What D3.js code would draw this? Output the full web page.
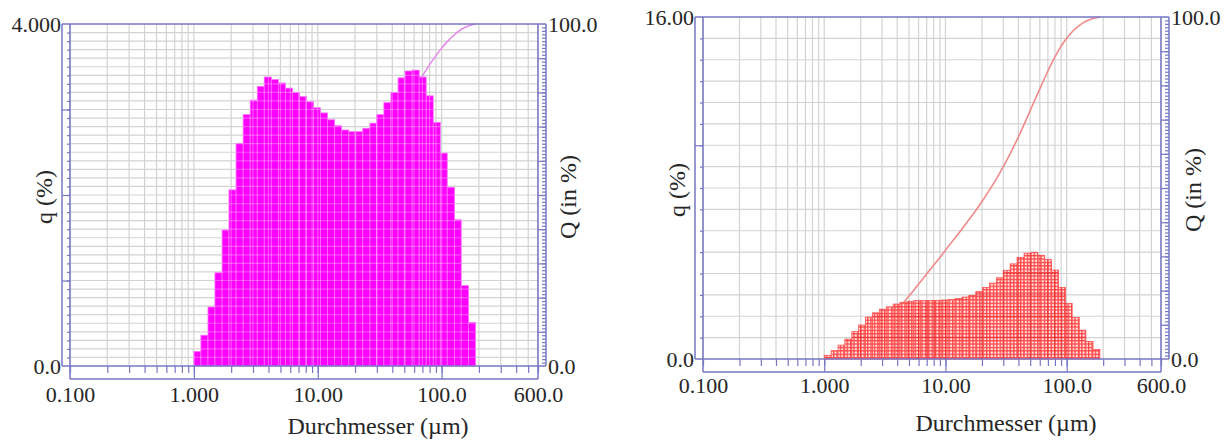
<!DOCTYPE html>
<html>
<head>
<meta charset="utf-8">
<script src="https://cdn.jsdelivr.net/npm/d3@7"></script>
<style>
  body { margin: 0; background: #fff; }
  text { font-family: "Liberation Serif", "Times New Roman", serif; fill: #262626; }
</style>
</head>
<body>
<svg id="chart"></svg>
<script>
// particle size classes (µm), bin edges shared by both measurements
let binEdges = [1.00, 1.14, 1.30, 1.48, 1.69, 1.92, 2.19, 2.50, 2.85, 3.25, 3.70, 4.22, 4.81, 5.48,
  6.25, 7.12, 8.12, 9.25, 10.5, 12.0, 13.7, 15.6, 17.8, 20.3, 23.1, 26.4, 30.0, 34.2, 39.0, 44.5,
  50.7, 57.8, 65.9, 75.1, 85.6, 97.6, 111, 127, 144, 165, 188];

// left sample: density q (%) per class and cumulative Q (%) at class edges
let qLeft = [0.17, 0.36, 0.69, 1.09, 1.59, 2.06, 2.60, 2.94, 3.11, 3.27, 3.38, 3.35, 3.31, 3.25,
  3.20, 3.15, 3.09, 3.02, 2.96, 2.88, 2.81, 2.76, 2.74, 2.74, 2.78, 2.84, 2.94, 3.08, 3.20, 3.37,
  3.45, 3.46, 3.38, 3.16, 2.85, 2.49, 2.09, 1.71, 0.94, 0.51];
let cumLeft = [0, 0.2, 0.5, 1.2, 2.3, 3.8, 5.8, 8.3, 11.2, 14.2, 17.4, 20.7, 24.0, 27.2, 30.3,
  33.4, 36.5, 39.5, 42.5, 45.3, 48.1, 50.9, 53.6, 56.2, 58.9, 61.6, 64.4, 67.2, 70.2, 73.3, 76.6,
  80.0, 83.3, 86.6, 89.7, 92.5, 94.9, 96.9, 98.6, 99.5, 100];

// right sample
let qRight = [0.17, 0.39, 0.65, 0.93, 1.28, 1.59, 1.96, 2.16, 2.33, 2.44, 2.57, 2.65, 2.70, 2.73,
  2.73, 2.74, 2.74, 2.76, 2.78, 2.83, 2.90, 2.98, 3.15, 3.35, 3.55, 3.80, 4.15, 4.45, 4.75, 4.95,
  4.98, 4.85, 4.65, 4.16, 3.35, 2.60, 1.95, 1.35, 0.82, 0.45];
let cumRight = [0, 0.2, 0.5, 1.1, 2.0, 3.2, 4.6, 6.4, 8.4, 10.6, 12.8, 15.2, 17.7, 20.1, 22.7,
  25.2, 27.7, 30.2, 32.8, 35.4, 38.0, 40.7, 43.4, 46.3, 49.4, 52.7, 56.2, 60.0, 64.1, 68.5, 73.1,
  77.7, 82.2, 86.5, 90.3, 93.4, 95.8, 97.6, 98.8, 99.6, 100];

let xTickValues = [0.1, 1, 10, 100, 600];
let xTickLabels = ["0.100", "1.000", "10.00", "100.0", "600.0"];
let leftYLabels = ["0.0", "4.000"];
let rightYLabels = ["0.0", "16.00"];
let cumLabels = ["0.0", "100.0"];

let width = 1230;
let height = 441;
let axisColor = "#7676c4";
let gridColor = "#d3d3d3";

let svg = d3.select("#chart").attr("width", width).attr("height", height);
let defs = svg.append("defs");

let hatch = defs.append("pattern")
  .attr("id", "redHatch")
  .attr("patternUnits", "userSpaceOnUse")
  .attr("width", 3.4)
  .attr("height", 3.4);
hatch.append("rect").attr("width", 3.4).attr("height", 3.4).attr("fill", "#ffeaea");
hatch.append("rect").attr("width", 3.4).attr("height", 1.3).attr("fill", "#ff4545");
hatch.append("rect").attr("width", 1.3).attr("height", 3.4).attr("fill", "#ff4545");

let panels = [
  {
    id: "left", q: qLeft, cum: cumLeft, yMax: 4, yStep: 0.1, yMajor: [1, 2, 3],
    yLabels: leftYLabels,
    x0: 70, x1: 538, yTop: 24, yBot: 366, xLabelPad: 20,
    fill: "#ff00ff", barStroke: "#ff6cff", curveColor: "#e58be8",
    overlay: "rgba(255,255,255,0.3)",
    qTitle: [44, 197], cumTitle: [568, 197], xTitle: [378, 434]
  },
  {
    id: "right", q: qRight, cum: cumRight, yMax: 16, yStep: 1, yMajor: [10],
    yLabels: rightYLabels,
    x0: 703, x1: 1161, yTop: 17, yBot: 359, xLabelPad: 18,
    fill: "url(#redHatch)", barStroke: "#ff5050", curveColor: "#f08a8a",
    overlay: "rgba(210,20,20,0.45)",
    qTitle: [677, 190], cumTitle: [1193, 190], xTitle: [1006, 431]
  }
];

function styleAxis(sel) {
  sel.select(".domain").remove();
  sel.selectAll(".tick line").attr("stroke", axisColor).attr("stroke-width", 1.2);
  sel.selectAll("text").style("font-size", "22px").attr("fill", "#262626");
}

function drawPanel(p) {
  let x = d3.scaleLog().domain([0.1, 600]).range([p.x0, p.x1]);
  let y = d3.scaleLinear().domain([0, p.yMax]).range([p.yBot, p.yTop]);
  let yQ = d3.scaleLinear().domain([0, 100]).range([p.yBot, p.yTop]);
  let g = svg.append("g");

  let xGrid = x.ticks();
  let nY = Math.round(p.yMax / p.yStep);
  let yGrid = d3.range(1, nY).map((i) => i * p.yStep);

  // gridlines
  g.append("g").selectAll("line").data(xGrid).join("line")
    .attr("x1", (d) => x(d)).attr("x2", (d) => x(d))
    .attr("y1", p.yTop).attr("y2", p.yBot)
    .attr("stroke", gridColor).attr("stroke-width", 1.2);
  g.append("g").selectAll("line").data(yGrid).join("line")
    .attr("x1", p.x0).attr("x2", p.x1)
    .attr("y1", (d) => y(d)).attr("y2", (d) => y(d))
    .attr("stroke", gridColor).attr("stroke-width", 1.2);

  // cumulative curve Q
  let line = d3.line()
    .x((d, i) => x(binEdges[i]))
    .y((d) => yQ(d))
    .curve(d3.curveBasis);
  g.append("path").datum(p.cum)
    .attr("d", line)
    .attr("fill", "none")
    .attr("stroke", p.curveColor)
    .attr("stroke-width", 1.6);

  // histogram bars q
  let barX = (d, i) => x(binEdges[i]);
  let barW = (d, i) => x(binEdges[i + 1]) - x(binEdges[i]);
  g.append("g").selectAll("rect").data(p.q).join("rect")
    .attr("x", barX).attr("width", barW)
    .attr("y", (d) => y(d)).attr("height", (d) => p.yBot - y(d))
    .attr("fill", p.fill)
    .attr("stroke", p.barStroke).attr("stroke-width", 0.8);

  // grid seen through the bars
  defs.append("clipPath").attr("id", p.id + "Clip")
    .selectAll("rect").data(p.q).join("rect")
    .attr("x", barX).attr("width", barW)
    .attr("y", (d) => y(d)).attr("height", (d) => p.yBot - y(d));
  let ov = g.append("g").attr("clip-path", "url(#" + p.id + "Clip)");
  ov.selectAll("line.v").data(xGrid).join("line")
    .attr("class", "v")
    .attr("x1", (d) => x(d)).attr("x2", (d) => x(d))
    .attr("y1", p.yTop).attr("y2", p.yBot)
    .attr("stroke", p.overlay).attr("stroke-width", 1.2);
  ov.selectAll("line.h").data(yGrid).join("line")
    .attr("class", "h")
    .attr("x1", p.x0).attr("x2", p.x1)
    .attr("y1", (d) => y(d)).attr("y2", (d) => y(d))
    .attr("stroke", p.overlay).attr("stroke-width", 1.2);

  // frame
  let frame = [
    [p.x0 - 8, p.yTop, p.x1 + 8, p.yTop],
    [p.x0 - 8, p.yBot, p.x1 + 8, p.yBot],
    [p.x0, p.yBot + 13, p.x1, p.yBot + 13],
    [p.x0, p.yTop, p.x0, p.yBot + 13],
    [p.x1, p.yTop, p.x1, p.yBot + 13],
    [p.x0 - 8, p.yTop, p.x0 - 8, p.yBot],
    [p.x1 + 8, p.yTop, p.x1 + 8, p.yBot]
  ];
  g.append("g").selectAll("line").data(frame).join("line")
    .attr("x1", (d) => d[0]).attr("y1", (d) => d[1])
    .attr("x2", (d) => d[2]).attr("y2", (d) => d[3])
    .attr("stroke", axisColor).attr("stroke-width", 1.5);

  // x axis
  g.append("g").attr("transform", `translate(0,${p.yBot})`)
    .call(d3.axisBottom(x).tickValues(xGrid).tickSize(7).tickFormat(""))
    .call(styleAxis);
  g.append("g").attr("transform", `translate(0,${p.yBot})`)
    .call(d3.axisBottom(x).tickValues([1, 10, 100]).tickSize(13).tickFormat(""))
    .call(styleAxis);
  g.append("g").attr("transform", `translate(0,${p.yBot})`)
    .call(d3.axisBottom(x).tickValues(xTickValues).tickSize(0).tickPadding(p.xLabelPad)
      .tickFormat((d, i) => xTickLabels[i]))
    .call(styleAxis);

  // q axis (left)
  g.append("g").attr("transform", `translate(${p.x0},0)`)
    .call(d3.axisLeft(y).tickValues(yGrid).tickSize(3).tickFormat(""))
    .call(styleAxis);
  g.append("g").attr("transform", `translate(${p.x0},0)`)
    .call(d3.axisLeft(y).tickValues(p.yMajor).tickSize(8).tickFormat(""))
    .call(styleAxis);
  g.append("g").attr("transform", `translate(${p.x0 - 8},0)`)
    .call(d3.axisLeft(y).tickValues([0, p.yMax]).tickSize(0).tickPadding(1)
      .tickFormat((d, i) => p.yLabels[i]))
    .call(styleAxis);

  // Q axis (right)
  g.append("g").attr("transform", `translate(${p.x1 + 8},0)`)
    .call(d3.axisLeft(yQ).tickValues(d3.range(1, 100)).tickSize(4).tickFormat(""))
    .call(styleAxis);
  g.append("g").attr("transform", `translate(${p.x1 + 8},0)`)
    .call(d3.axisLeft(yQ).tickValues(d3.range(10, 100, 10)).tickSize(8).tickFormat(""))
    .call(styleAxis);
  g.append("g").attr("transform", `translate(${p.x1 + 8},0)`)
    .call(d3.axisRight(yQ).tickValues([0, 100]).tickSize(0).tickPadding(2)
      .tickFormat((d, i) => cumLabels[i]))
    .call(styleAxis);

  // titles
  g.append("text")
    .attr("transform", `translate(${p.qTitle[0]},${p.qTitle[1]}) rotate(-90)`)
    .attr("text-anchor", "middle").attr("dy", "0.35em")
    .style("font-size", "24px")
    .text("q (%)");
  g.append("text")
    .attr("transform", `translate(${p.cumTitle[0]},${p.cumTitle[1]}) rotate(-90)`)
    .attr("text-anchor", "middle").attr("dy", "0.35em")
    .style("font-size", "24px")
    .text("Q (in %)");
  g.append("text")
    .attr("x", p.xTitle[0]).attr("y", p.xTitle[1])
    .attr("text-anchor", "middle")
    .style("font-size", "24px")
    .text("Durchmesser (µm)");
}

panels.forEach(drawPanel);
</script>
</body>
</html>
